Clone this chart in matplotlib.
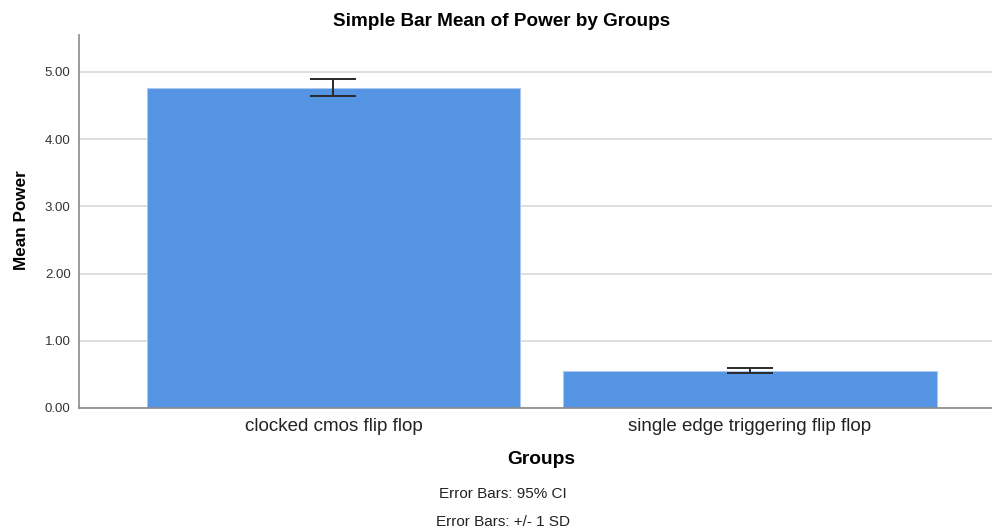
import matplotlib
matplotlib.use("Agg")
import matplotlib.pyplot as plt
import numpy as np

plt.rcParams['font.family'] = ['Liberation Sans', 'DejaVu Sans']

categories = ["clocked cmos flip flop", "single edge triggering flip flop"]
means = [4.76, 0.55]
err_low = [4.64, 0.52]
err_high = [4.90, 0.595]
yticks = [0.0, 1.0, 2.0, 3.0, 4.0, 5.0]

fig = plt.figure(figsize=(9.92, 5.30), dpi=100)
ax = fig.add_axes([0.0796, 0.2302, 0.9204, 0.7038])

x = np.arange(len(categories))
lower = np.array(means) - np.array(err_low)
upper = np.array(err_high) - np.array(means)
ax.bar(x, means, width=0.896, color="#5494e3", edgecolor="#a9c9f0", linewidth=0.8, zorder=2)
ax.errorbar(x, means, yerr=[lower, upper], fmt='none', ecolor="#2a2a2a",
            elinewidth=1.4, capsize=16.5, capthick=1.4, zorder=3)

ax.set_xlim(-0.611, 1.581)
ax.set_ylim(0, 5.55)
ax.set_yticks(yticks)
ax.set_yticklabels([f"{v:.2f}" for v in yticks], fontsize=9.5, color="#333333")
ax.set_xticks(x)
ax.set_xticklabels(categories, fontsize=13.5, color="#222222")
ax.tick_params(axis='y', length=0, pad=6)
ax.tick_params(axis='x', length=0, pad=7)
ax.yaxis.grid(True, color="#d8d8d8", linewidth=1.2, zorder=0)
ax.set_axisbelow(True)
for s in ["top", "right"]:
    ax.spines[s].set_visible(False)
ax.spines["left"].set_color("#8a8a8a")
ax.spines["bottom"].set_color("#8a8a8a")
ax.spines["left"].set_linewidth(1.2)
ax.spines["bottom"].set_linewidth(1.2)

fig.text(22/992, 1 - 220/530, "Mean Power", fontsize=12.3, fontweight='bold',
         rotation=90, ha='center', va='center')
fig.text(541/992, 1 - 460/530, "Groups", fontsize=13.8, fontweight='bold', ha='center', va='center')
fig.text(502/992, 1 - 21/530, "Simple Bar Mean of Power by Groups", fontsize=13.6, fontweight='bold', ha='center', va='center')
fig.text(503/992, 1 - 494.5/530, "Error Bars: 95% CI", fontsize=11, ha='center', va='center', color="#222222")
fig.text(503/992, 1 - 521.5/530, "Error Bars: +/- 1 SD", fontsize=11, ha='center', va='center', color="#222222")

fig.savefig("out.png", dpi=100)
